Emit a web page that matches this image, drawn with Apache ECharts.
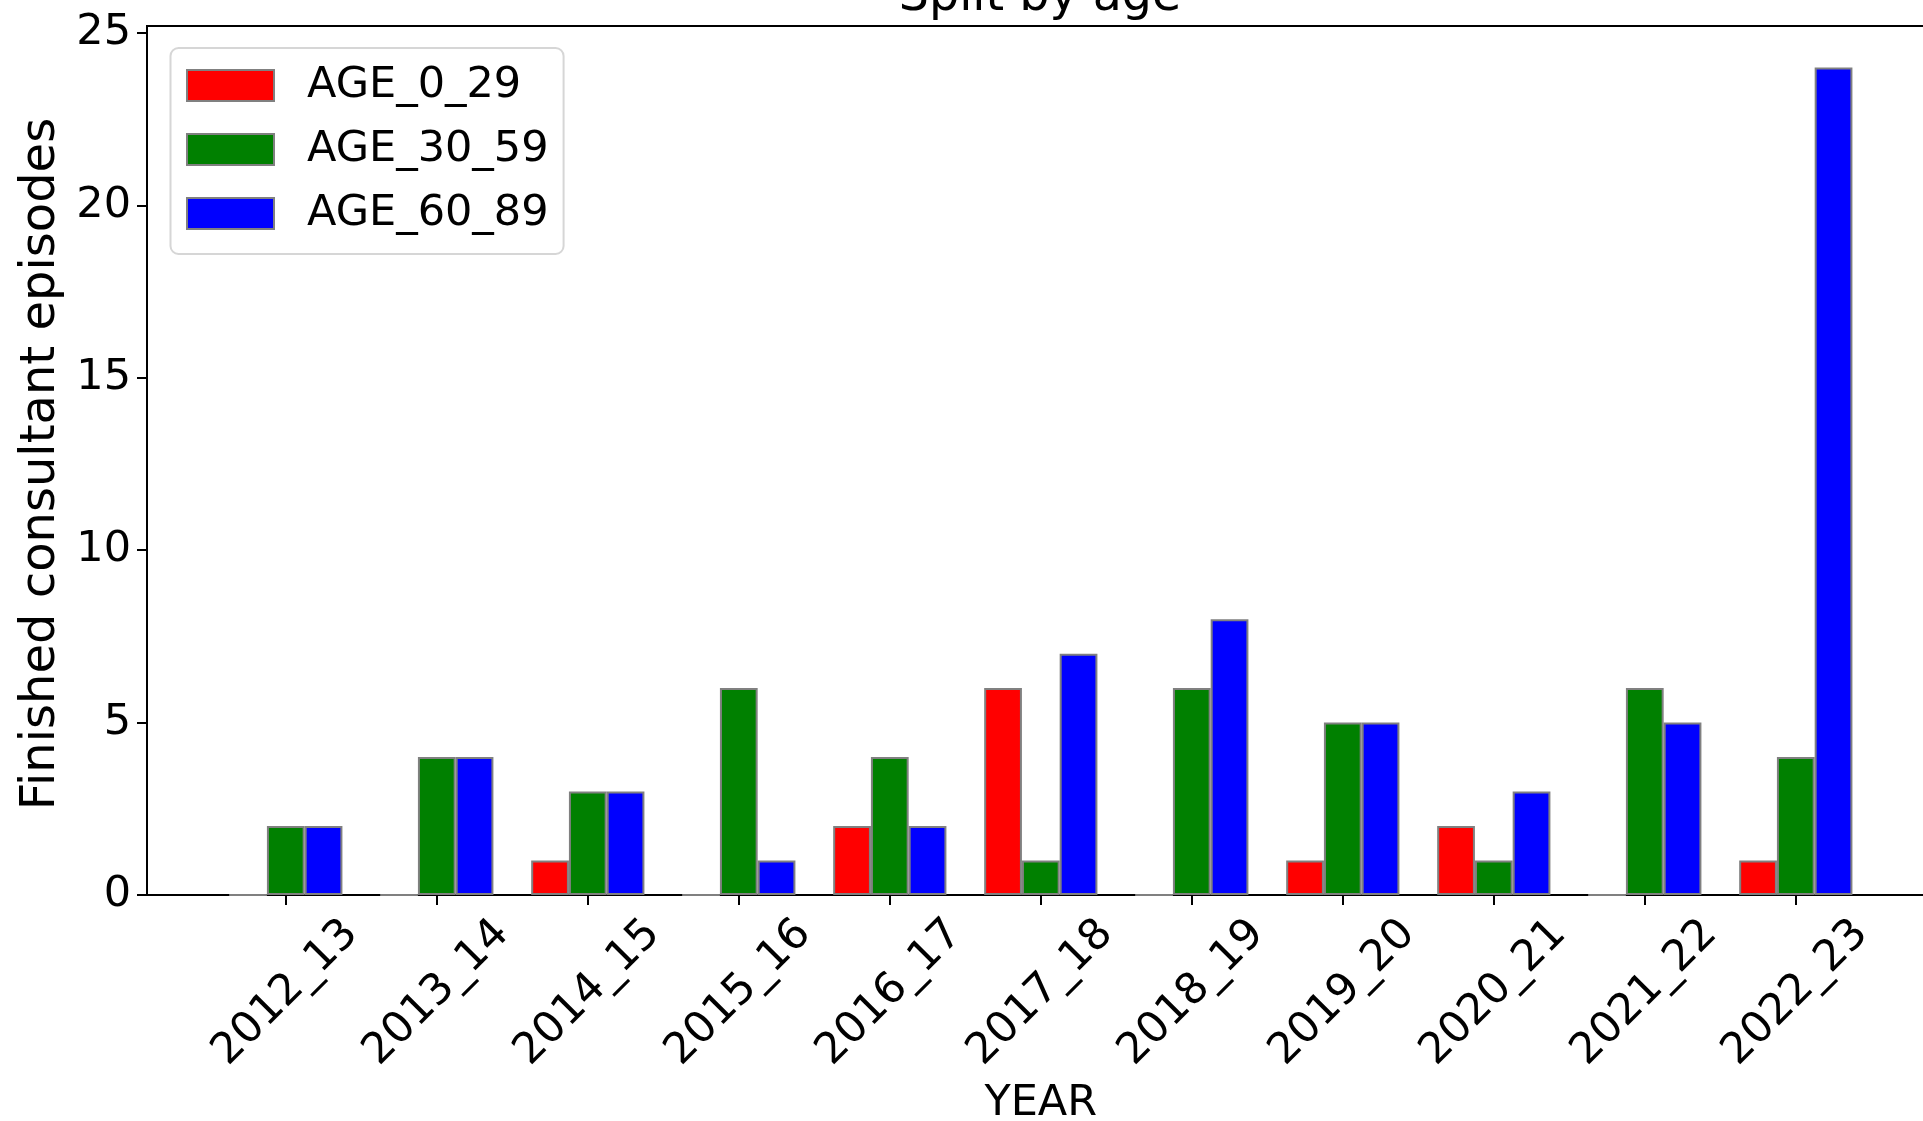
<!DOCTYPE html>
<html>
<head>
<meta charset="utf-8">
<script src="https://cdn.jsdelivr.net/npm/echarts@6/dist/echarts.min.js"></script>
<style>
html,body{margin:0;padding:0;background:#fff;}
#chart{width:1923px;height:1121px;}
</style>
</head>
<body>
<div id="chart"></div>
<script>
const years = ['2012_13','2013_14','2014_15','2015_16','2016_17','2017_18','2018_19','2019_20','2020_21','2021_22','2022_23'];
const age_0_29  = [0, 0, 1, 0, 2, 6, 0, 1, 2, 0, 1];
const age_30_59 = [2, 4, 3, 6, 4, 1, 6, 5, 1, 6, 4];
const age_60_89 = [2, 4, 3, 1, 2, 7, 8, 5, 3, 5, 24];
const seriesNames = ['AGE_0_29','AGE_30_59','AGE_60_89'];
const seriesColors = ['#ff0000','#008000','#0000ff'];
const yTicks = {min: 0, max: 25, interval: 5};

const FONT = 'DejaVu Sans';
const chart = echarts.init(document.getElementById('chart'), null, {renderer: 'canvas'});

const seriesData = [age_0_29, age_30_59, age_60_89];
const series = seriesData.map((d, i) => ({
  name: seriesNames[i],
  type: 'bar',
  xAxisIndex: 1,
  yAxisIndex: 1,
  data: d,
  barWidth: 37.75,
  barGap: '0%',
  itemStyle: {color: seriesColors[i], borderColor: '#808080', borderWidth: 2},
  emphasis: {disabled: true},
  animation: false
}));

chart.setOption({
  animation: false,
  backgroundColor: '#ffffff',
  textStyle: {fontFamily: FONT, color: '#000'},
  graphic: [{
    type: 'text', x: 1040, y: 22, silent: true,
    style: {text: 'Split by age', font: '47.5px "DejaVu Sans"', fill: '#000', textAlign: 'center', textVerticalAlign: 'bottom'}
  }],
  legend: {
    orient: 'vertical',
    left: 170.5, top: 48,
    itemWidth: 87, itemHeight: 31, itemGap: 21,
    padding: [16, 15, 19, 15.5],
    backgroundColor: '#fff',
    borderColor: '#d6d6d6', borderWidth: 2, borderRadius: 8,
    icon: 'rect',
    textStyle: {fontFamily: FONT, fontSize: 43, color: '#000', padding: [0, 0, 0, 28]},
    data: seriesNames
  },
  grid: [
    {left: 147, top: 26, right: -12, bottom: 226, show: true, borderColor: '#000', borderWidth: 2, backgroundColor: 'transparent', outerBoundsMode: 'none', containLabel: false},
    {left: 210.3, width: 1661, top: 33, bottom: 226, outerBoundsMode: 'none', containLabel: false}
  ],
  xAxis: [
    {type: 'value', gridIndex: 0, show: false, min: 0, max: 1},
    {
      type: 'category', gridIndex: 1, data: years,
      axisLine: {show: false},
      axisTick: {show: true, alignWithLabel: true, length: 10, lineStyle: {color: '#000', width: 2}},
      axisLabel: {interval: 0, rotate: 45, align: 'center', verticalAlign: 'middle', margin: 98, fontSize: 43, fontFamily: FONT, color: '#000'},
      name: 'YEAR', nameLocation: 'middle', nameGap: 187,
      nameTextStyle: {fontSize: 43, fontFamily: FONT, color: '#000'}
    }
  ],
  yAxis: [
    {type: 'value', gridIndex: 0, show: false, min: 0, max: 1},
    {
      type: 'value', gridIndex: 1, min: yTicks.min, max: yTicks.max, interval: yTicks.interval,
      offset: 63.3,
      axisLine: {show: false},
      axisTick: {show: true, length: 10, lineStyle: {color: '#000', width: 2}},
      splitLine: {show: false},
      axisLabel: {fontSize: 43, fontFamily: FONT, color: '#000', margin: 16},
      name: 'Finished consultant episodes', nameLocation: 'middle', nameGap: 76,
      nameTextStyle: {fontSize: 48, fontFamily: FONT, color: '#000'}
    }
  ],
  series: series
});
</script>
</body>
</html>
